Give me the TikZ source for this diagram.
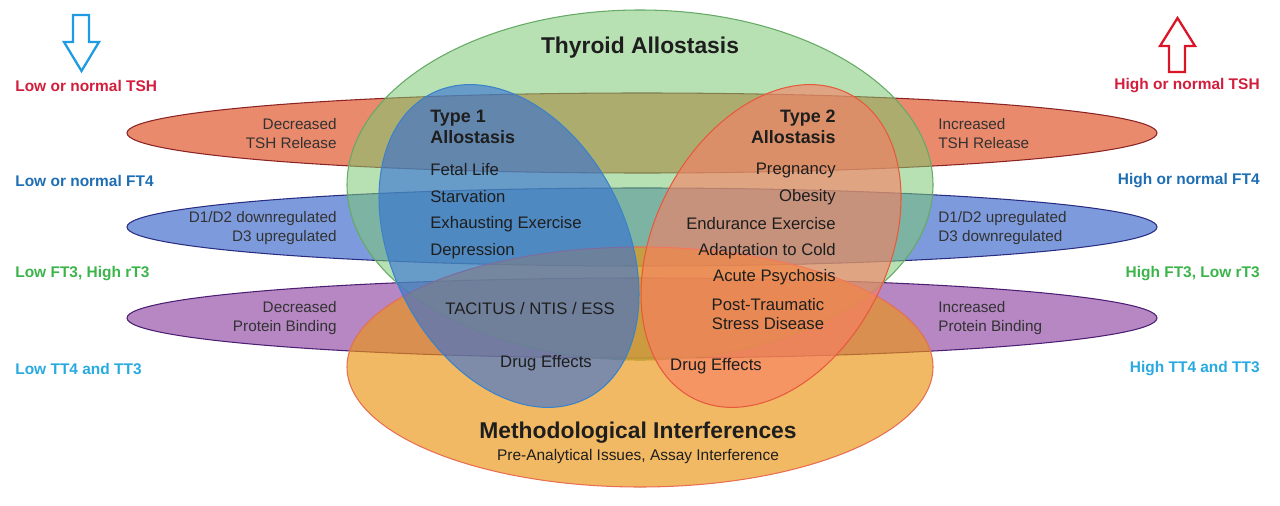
\documentclass[tikz,border=0pt]{standalone}
\usepackage{fontspec}
\setmainfont{Liberation Sans}
\definecolor{bandred}{RGB}{234,138,108}
\definecolor{bandredline}{RGB}{140,35,35}
\definecolor{bandblue}{RGB}{125,155,220}
\definecolor{bandblueline}{RGB}{40,45,130}
\definecolor{bandpurple}{RGB}{182,135,195}
\definecolor{bandpurpleline}{RGB}{75,30,115}
\definecolor{thyrgreen}{RGB}{124,200,115}
\definecolor{thyrgreenline}{RGB}{100,170,100}
\definecolor{methorange}{RGB}{235,148,17}
\definecolor{methline}{RGB}{232,110,80}
\definecolor{typeblue}{RGB}{50,110,215}
\definecolor{typeblueline}{RGB}{60,130,200}
\definecolor{typeorange}{RGB}{250,125,100}
\definecolor{typeorangeline}{RGB}{230,90,60}
\definecolor{tshred}{RGB}{210,30,60}
\definecolor{ft4blue}{RGB}{30,110,180}
\definecolor{ft3green}{RGB}{60,180,75}
\definecolor{tt4blue}{RGB}{40,170,225}
\definecolor{arrowblue}{RGB}{30,155,225}
\definecolor{arrowred}{RGB}{220,20,40}
\definecolor{txtgray}{RGB}{50,50,50}
\definecolor{txtdark}{RGB}{30,30,30}
\begin{document}
\begin{tikzpicture}[x=0.02cm,y=-0.02cm,
  outl/.style={line width=0.6pt},
  sidelab/.style={font=\fontsize{8.8}{10}\selectfont\bfseries, inner sep=0pt},
  bandtxt/.style={font=\fontsize{8.7}{10.8}\selectfont, text=txtgray, inner sep=0pt},
  item/.style={font=\fontsize{9.5}{10.8}\selectfont, text=txtdark, inner sep=0pt},
  head/.style={font=\fontsize{10.2}{11.9}\selectfont\bfseries, text=txtdark, inner sep=0pt},
  bigtitle/.style={font=\fontsize{13}{15}\selectfont\bfseries, text=txtdark, inner sep=0pt},
  blockarrow/.style={line width=1.3pt, line join=miter}
]
\useasboundingbox (0,0) rectangle (1280,506);

% horizontal bands
\draw[outl, draw=bandredline, fill=bandred] (642,133) ellipse [x radius=515, y radius=40];
\draw[outl, draw=bandblueline, fill=bandblue] (642,227) ellipse [x radius=515, y radius=39];
\draw[outl, draw=bandpurpleline, fill=bandpurple] (642,318) ellipse [x radius=515, y radius=40];

% thyroid allostasis
\draw[outl, draw=thyrgreenline, fill=thyrgreen, fill opacity=0.55] (640,185) ellipse [x radius=293, y radius=175];
% methodological interferences
\draw[outl, draw=methline, fill=methorange, fill opacity=0.65] (640,367) ellipse [x radius=293, y radius=120];
% type 1 and type 2
\draw[outl, draw=typeblueline, fill=typeblue, fill opacity=0.6, rotate around={27:(509,246)}] (509,246) ellipse [x radius=117, y radius=171];
\draw[outl, draw=typeorangeline, fill=typeorange, fill opacity=0.6, rotate around={-27:(771,246)}] (771,246) ellipse [x radius=117, y radius=171];

% block arrows
\draw[blockarrow, draw=arrowblue] (73,15) -- (89,15) -- (89,42) -- (99,42) -- (81.5,71) -- (64,42) -- (73,42) -- cycle;
\draw[blockarrow, draw=arrowred] (1169,72) -- (1185,72) -- (1185,46) -- (1195,46) -- (1177.5,18) -- (1160,46) -- (1169,46) -- cycle;

% side labels
\node[sidelab, text=tshred, anchor=west] (lTSH) at (15,86) {Low or normal TSH};
\node[sidelab, text=ft4blue, anchor=west] (lFT4) at (15,181) {Low or normal FT4};
\node[sidelab, text=ft3green, anchor=west] (lFT3) at (15,274) {Low FT3, High rT3};
\node[sidelab, text=tt4blue, anchor=west] (lTT4) at (15,369) {Low TT4 and TT3};
\node[sidelab, text=tshred, anchor=east] (rTSH) at (1260,86) {High or normal TSH};
\node[sidelab, text=ft4blue, anchor=east] (rFT4) at (1260,181) {High or normal FT4};
\node[sidelab, text=ft3green, anchor=east] (rFT3) at (1260,274) {High FT3, Low rT3};
\node[sidelab, text=tt4blue, anchor=east] (rTT4) at (1260,369) {High TT4 and TT3};

% band texts
\node[bandtxt, align=right, anchor=east] (bl1) at (337,133.5) {Decreased\\TSH Release};
\node[bandtxt, align=right, anchor=east] (bl2) at (337,228) {D1/D2 downregulated\\D3 upregulated};
\node[bandtxt, align=right, anchor=east] (bl3) at (337,318.5) {Decreased\\Protein Binding};
\node[bandtxt, align=left, anchor=west] (br1) at (938,133.5) {Increased\\TSH Release};
\node[bandtxt, align=left, anchor=west] (br2) at (938,228) {D1/D2 upregulated\\D3 downregulated};
\node[bandtxt, align=left, anchor=west] (br3) at (938,318.5) {Increased\\Protein Binding};

% center texts
\node[bigtitle] (thyr) at (640,48) {Thyroid Allostasis};
\node[head, align=left, anchor=west] (t1) at (430,126.5) {Type 1\\Allostasis};
\node[item, anchor=west] (fetal) at (430,170) {Fetal Life};
\node[item, anchor=west] (starv) at (430,197) {Starvation};
\node[item, anchor=west] (exh) at (430,224) {Exhausting Exercise};
\node[item, anchor=west] (depr) at (430,251) {Depression};
\node[head, align=right, anchor=east] (t2) at (836,126.5) {Type 2\\Allostasis};
\node[item, anchor=east] (preg) at (836,170) {Pregnancy};
\node[item, anchor=east] (obes) at (836,197) {Obesity};
\node[item, anchor=east] (endu) at (836,224) {Endurance Exercise};
\node[item, anchor=east] (cold) at (836,251) {Adaptation to Cold};
\node[item, anchor=east] (psych) at (836,277) {Acute Psychosis};
\node[item, align=center] (ptsd) at (768,314.5) {Post-Traumatic\\Stress Disease};
\node[item] (tac) at (530,309) {TACITUS / NTIS / ESS};
\node[item] (de1) at (546,363) {Drug Effects};
\node[item] (de2) at (716,366) {Drug Effects};
\node[bigtitle] (meth) at (638,433) {Methodological Interferences};
\node[font=\fontsize{8.8}{10}\selectfont, text=txtdark, inner sep=0pt] (pre) at (638,456) {Pre-Analytical Issues, Assay Interference};
\end{tikzpicture}
\end{document}
